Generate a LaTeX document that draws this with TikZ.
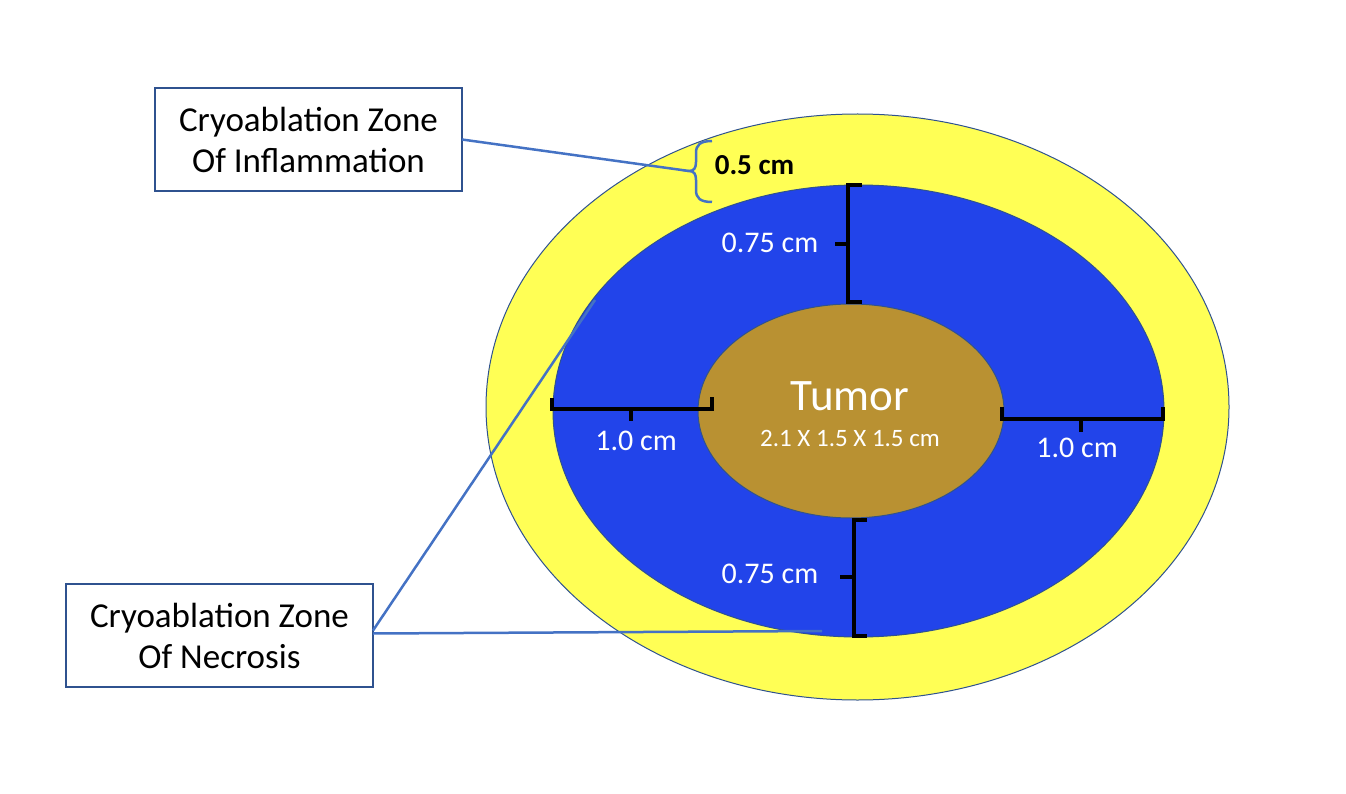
\documentclass[tikz,border=0pt]{standalone}
\usepackage{fontspec}
\setmainfont{Carlito}
\usetikzlibrary{shapes.geometric}
\definecolor{zoneyellow}{RGB}{255,255,85}
\definecolor{zoneblue}{RGB}{34,68,234}
\definecolor{tumorcol}{RGB}{185,145,50}
\definecolor{outlinecol}{RGB}{47,82,143}
\definecolor{leadcol}{RGB}{68,114,196}
\begin{document}
\begin{tikzpicture}[x=1pt,y=-1pt,
  zone/.style={ellipse, draw=outlinecol, line width=1pt, inner sep=0pt, outer sep=0pt},
  labelbox/.style={draw=outlinecol, line width=1.2pt, fill=white, minimum width=307pt, minimum height=103pt, align=center, font=\fontsize{35}{41}\selectfont, inner sep=0pt, outer sep=0pt},
  dimlabel/.style={text=white, font=\fontsize{30}{34}\selectfont, inner sep=0pt},
  bracketline/.style={draw=black, line width=3.5pt, line join=miter},
  leader/.style={draw=leadcol, line width=2.5pt}]
\useasboundingbox (0,0) rectangle (1346,794);
% zones
\node[zone, fill=zoneyellow, minimum width=743pt, minimum height=586pt] (outer) at (857.5,407) {};
\node[zone, fill=zoneblue, minimum width=611pt, minimum height=452pt] (mid) at (858.5,411) {};
\node[zone, fill=tumorcol, minimum width=306pt, minimum height=214pt] (tumor) at (851,411) {};
% tumor text
\node[text=white, font=\fontsize{45}{50}\selectfont, inner sep=0pt] (tumortitle) at (850,396) {Tumor};
\node[text=white, font=\fontsize{25}{28}\selectfont, inner sep=0pt] (tumorsize) at (850,438.5) {2.1 X 1.5 X 1.5 cm};
% brackets
\draw[bracketline] (862,185) -- (848,185) -- (848,302) -- (862,302);
\draw[bracketline] (848,244) -- (835,244);
\draw[bracketline] (867,520) -- (854,520) -- (854,636) -- (867,636);
\draw[bracketline] (854,577) -- (840,577);
\draw[bracketline] (552,398) -- (552,409) -- (712,409) -- (712,397);
\draw[bracketline] (631,409) -- (631,421);
\draw[bracketline] (1002,407) -- (1002,419) -- (1163,419) -- (1163,407);
\draw[bracketline] (1081,419) -- (1081,432);
% dimension labels
\node[dimlabel] (dtop) at (770,243) {0.75 cm};
\node[dimlabel] (dbot) at (770,574) {0.75 cm};
\node[dimlabel] (dleft) at (636,441) {1.0 cm};
\node[dimlabel] (dright) at (1077,448) {1.0 cm};
\node[font=\bfseries\fontsize{29}{34}\selectfont, inner sep=0pt] (dinfl) at (754.5,165) {0.5 cm};
% label boxes
\node[labelbox] (inflam) at (308.5,139.5) {Cryoablation Zone\\Of Inflammation};
\node[labelbox] (necro) at (219.5,635.5) {Cryoablation Zone\\Of Necrosis};
% brace
\coordinate (bracetip) at (689,171);
\draw[leader] (712,141) .. controls (700,141) and (696,145) .. (696,153) -- (696,162)
  .. controls (696,168) and (694,171) .. (bracetip)
  .. controls (694,171) and (696,174) .. (696,180) -- (696,190)
  .. controls (696,198) and (700,202) .. (712,202);
% leaders
\coordinate (necroA) at (595,300);
\coordinate (necroB) at (822,631);
\draw[leader] (inflam.east) -- (bracetip);
\draw[leader] ([yshift=5pt]necro.east) -- (necroA);
\draw[leader] ([yshift=2pt]necro.east) -- (necroB);
\end{tikzpicture}
\end{document}
